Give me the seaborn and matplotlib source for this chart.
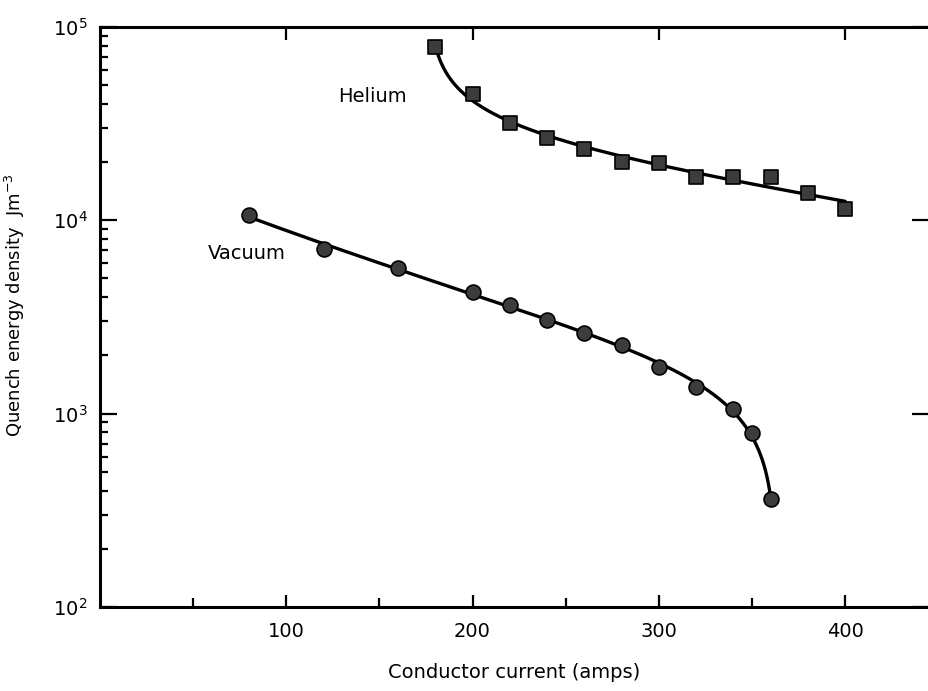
import numpy as np
import pandas as pd
import matplotlib
matplotlib.use("Agg")
import matplotlib.pyplot as plt
import seaborn as sns
from matplotlib.ticker import LogLocator, FixedLocator

# values
helium_current = [180, 200, 220, 240, 260, 280, 300, 320, 340, 360, 380, 400]
helium_energy = [78500, 45200, 32000, 26700, 23400, 20000, 19900, 16800, 16800, 16700, 13800, 11500]

vacuum_current = [80, 120, 160, 200, 220, 240, 260, 280, 300, 320, 340, 350, 360]
vacuum_energy = [10650, 7130, 5670, 4270, 3630, 3050, 2610, 2270, 1750, 1370, 1060, 790, 361]

x_ticks = [100, 200, 300, 400]
x_minor = [50, 150, 250, 350]

helium = pd.DataFrame({"current": helium_current, "energy": helium_energy})
vacuum = pd.DataFrame({"current": vacuum_current, "energy": vacuum_energy})


def smooth_fit(df, basis):
    # least squares fit of log10(energy) on a small basis, drawn as the smooth curve
    x = df.current.to_numpy(float)
    A = np.column_stack([f(x) for f in basis])
    coef, *_ = np.linalg.lstsq(A, np.log10(df.energy.to_numpy(float)), rcond=None)
    xs = np.linspace(x.min(), x.max(), 400)
    ys = 10 ** (np.column_stack([f(xs) for f in basis]) @ coef)
    return pd.DataFrame({"current": xs, "energy": ys})


helium_fit = smooth_fit(helium, [np.ones_like, lambda x: x, lambda x: x ** 2,
                                 lambda x: np.log(x - 176.0)])
vacuum_fit = smooth_fit(vacuum, [np.ones_like, lambda x: x, lambda x: x ** 2,
                                 lambda x: np.log(363.0 - x)])

sns.set_style("ticks")
plt.rcParams["font.family"] = ["DejaVu Sans"]
plt.rcParams["font.size"] = 14
for key in ["text.color", "axes.labelcolor", "xtick.color", "ytick.color", "axes.edgecolor"]:
    plt.rcParams[key] = "black"

fig = plt.figure(figsize=(9.29, 6.91), dpi=100)
ax = fig.add_axes([0.1076, 0.1216, 0.8924, 0.8394])

sns.lineplot(data=helium_fit, x="current", y="energy", color="black", lw=2.4, ax=ax)
sns.lineplot(data=vacuum_fit, x="current", y="energy", color="black", lw=2.4, ax=ax)
sns.scatterplot(data=helium, x="current", y="energy", marker="s", s=95,
                color="#3c3c3c", edgecolor="black", linewidth=1.2, zorder=3, ax=ax)
sns.scatterplot(data=vacuum, x="current", y="energy", marker="o", s=115,
                color="#3c3c3c", edgecolor="black", linewidth=1.2, zorder=3, ax=ax)

ax.set_yscale("log")
ax.set_xlim(0, 445)
ax.set_ylim(1e2, 1e5)

ax.xaxis.set_major_locator(FixedLocator(x_ticks))
ax.xaxis.set_minor_locator(FixedLocator(x_minor))
ax.yaxis.set_major_locator(LogLocator(base=10))
ax.yaxis.set_minor_locator(LogLocator(base=10, subs=np.arange(2, 10)))

for side in ["top", "bottom", "left"]:
    ax.spines[side].set_linewidth(2.2)
    ax.spines[side].set_color("black")
ax.spines["right"].set_visible(False)

ax.tick_params(axis="x", which="major", direction="in", length=9, width=1.6,
               top=True, bottom=True, pad=11, labelsize=14)
ax.tick_params(axis="x", which="minor", direction="in", length=6.5, width=1.6,
               top=False, bottom=True)
ax.tick_params(axis="y", which="major", direction="in", length=12, width=1.6,
               left=True, right=True, pad=9, labelsize=14)
ax.tick_params(axis="y", which="minor", direction="in", length=6, width=1.6,
               left=True, right=False)

ax.set_xlabel("Conductor current (amps)", fontsize=14, labelpad=16)
ax.set_ylabel("Quench energy density  Jm$^{-3}$", fontsize=13)
ax.yaxis.set_label_coords(-0.088, 0.52)

ax.text(128, 43500, "Helium", fontsize=14, va="center", ha="left")
ax.text(58, 6700, "Vacuum", fontsize=14, va="center", ha="left")

fig.savefig("out.png", dpi=100)
